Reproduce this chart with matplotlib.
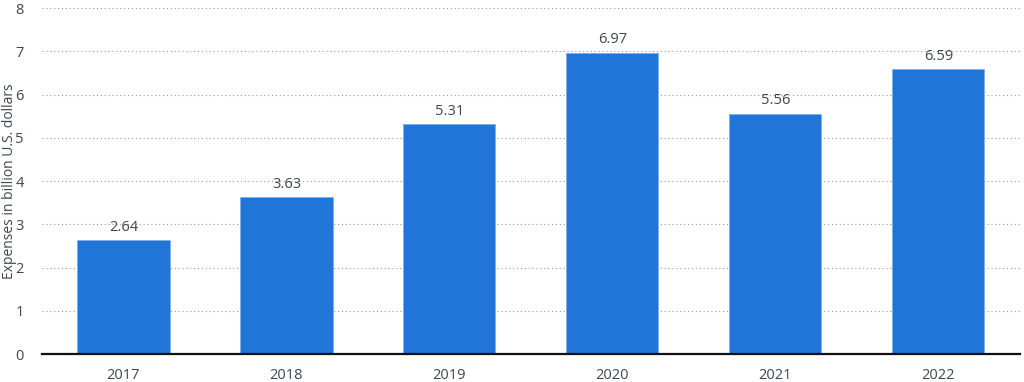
import matplotlib
matplotlib.use('Agg')
import matplotlib.pyplot as plt

years = ['2017', '2018', '2019', '2020', '2021', '2022']
expenses = [2.64, 3.63, 5.31, 6.97, 5.56, 6.59]

plt.rcParams['font.family'] = ['Open Sans', 'DejaVu Sans']
text_color = '#3c4650'

fig = plt.figure(figsize=(10.24, 3.82), dpi=100)
ax = fig.add_axes([0.041, 0.073, 0.955, 0.906])

x = range(len(years))
ax.bar(x, expenses, width=0.565, color='#2175d9', edgecolor='#7fb0ec', linewidth=0.6, zorder=3)
for xi, v in zip(x, expenses):
    ax.text(xi, v + 0.12, f'{v:.2f}', ha='center', va='bottom', fontsize=10.5, color=text_color, zorder=4)

ax.set_xlim(-0.5, len(years) - 0.5)
ax.set_ylim(0, 8)
ax.set_yticks(range(0, 9))
ax.set_xticks(list(x))
ax.set_xticklabels(years)
ax.tick_params(axis='both', length=0, labelsize=10.5, colors=text_color)
ax.tick_params(axis='x', pad=10)
ax.tick_params(axis='y', pad=13)
ax.set_ylabel('Expenses in billion U.S. dollars', fontsize=10, color=text_color)
ax.yaxis.set_label_coords(-0.0255, 0.5)

ax.grid(axis='y', linestyle=(0, (1, 2.5)), color='#999999', linewidth=0.8, zorder=0)
for s in ['top', 'right', 'left']:
    ax.spines[s].set_visible(False)
ax.spines['bottom'].set_color('#111111')
ax.spines['bottom'].set_linewidth(1.6)
ax.spines['bottom'].set_zorder(5)

fig.savefig('out.png', dpi=100)
